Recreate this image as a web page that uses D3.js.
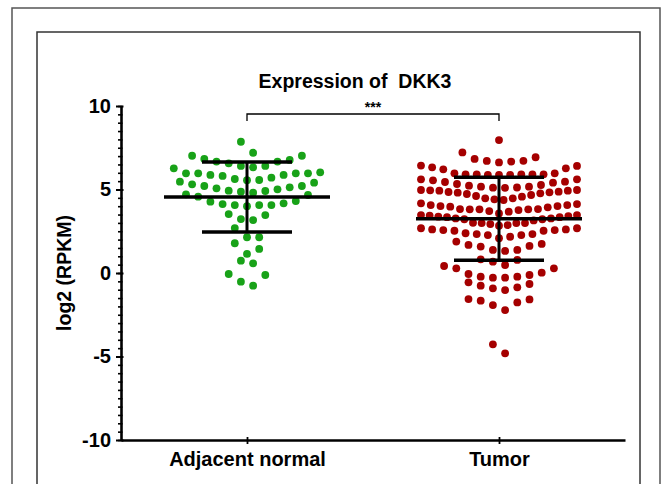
<!DOCTYPE html>
<html><head><meta charset="utf-8">
<script src="https://cdn.jsdelivr.net/npm/d3@7/dist/d3.min.js"></script>
<style>
body{margin:0;background:#fff}
svg{display:block}
text{font-family:"Liberation Sans",Arial,Helvetica,sans-serif;font-weight:bold;fill:#000}
</style>
</head><body>
<svg id="chart" width="667" height="484"></svg>
<script>
const categories = ["Adjacent normal", "Tumor"];
const normalValues = [
  7.86, 7.2,
  7.02, 7.02, 6.77, 6.83, 6.67, 6.67, 6.57, 6.41, 6.33, 6.41,
  6.03, 5.97, 5.97, 5.87, 5.71, 5.57, 5.56, 5.63, 5.81, 5.87, 5.97, 5.97, 6.27,
  5.41, 5.21, 5.13, 5.01, 4.91, 4.81, 4.87, 4.93, 5.07, 5.21, 5.31, 5.47,
  4.71, 4.57, 4.27, 4.13, 4.07, 4.0, 4.07, 4.07, 4.17, 4.31, 4.67,
  3.47, 3.17, 3.23, 3.53,
  2.69,
  2.14, 2.14,
  1.44, 1.78,
  1.14,
  0.74, 0.58,
  -0.12, -0.06,
  -0.76, -0.52
];
const tumorValues = [
  7.96, 7.22,
  6.83, 6.71, 6.62, 6.67, 6.72, 6.93,
  6.41, 6.27, 5.97, 5.91, 5.91, 5.91, 5.87, 5.87, 5.87, 5.91, 5.91, 5.97, 6.21, 6.33, 6.43,
  5.61, 5.47, 5.41, 5.27, 5.17, 5.11, 5.1, 5.12, 5.17, 5.23, 5.33, 5.45, 5.55, 5.61,
  4.97, 4.93, 4.87, 4.83, 4.77, 4.67, 4.57, 4.47, 4.37, 4.41, 4.47, 4.61, 4.73, 4.81, 4.85, 4.93, 4.95, 4.97,
  4.17, 4.07, 4.01, 3.93, 3.83, 3.81, 3.81, 3.57, 3.67, 3.71, 3.77, 3.81, 3.83, 3.97, 4.01, 4.07, 4.13,
  3.47, 3.41, 3.34, 3.27, 3.22, 3.15, 2.99, 2.99, 2.83, 2.87, 2.93, 2.99, 3.01, 3.22, 3.27, 3.34, 3.37, 3.43, 3.47,
  2.68, 2.61, 2.57, 2.53, 2.33, 2.27, 2.17, 2.08, 2.27, 2.33, 2.38, 2.53, 2.57, 2.61, 2.68,
  1.88, 1.68, 1.58, 1.38, 1.32, 1.38, 1.62, 1.74,
  0.78, 0.48, 0.68, 0.82,
  0.28, 0.02, -0.12, -0.28, -0.22, -0.28, -0.22, -0.06, 0.28, 0.42,
  -0.66, -0.86, -1.02, -0.92, -0.76, -0.56,
  -1.56, -1.66, -1.92, -2.22, -1.76, -1.58,
  -4.27, -4.81
];
const groupMeans = [4.55, 3.25];
const groupSDs = [2.1, 2.48];
const yTicks = [-10, -5, 0, 5, 10];
const yMinorStep = 0.5;
const titleText = "Expression of  DKK3";
const yLabelText = "log2 (RPKM)";
const significanceText = "***";
const groupColors = ["#18a218", "#a50000"];

const svg = d3.select("#chart");

// frames
svg.append("rect").attr("x", 12).attr("y", 8).attr("width", 648).attr("height", 520)
  .attr("fill", "none").attr("stroke", "#555").attr("stroke-width", 1.5);
svg.append("rect").attr("x", 37).attr("y", 32).attr("width", 603).attr("height", 500)
  .attr("fill", "none").attr("stroke", "#333").attr("stroke-width", 1.5);

const y = d3.scaleLinear().domain([-10, 10]).range([440, 106]);
const x = d3.scalePoint().domain(categories).range([121, 625]).padding(0.5);

// title
svg.append("text").attr("x", 355).attr("y", 88).attr("text-anchor", "middle")
  .attr("font-size", 19.5).style("white-space", "pre").text(titleText);

// y label
svg.append("text").attr("transform", "translate(71,273) rotate(-90)")
  .attr("text-anchor", "middle").attr("font-size", 19.5).text(yLabelText);

// minor ticks
const minor = d3.range(-10, 10 + 1e-9, yMinorStep);
svg.append("g").attr("transform", "translate(121,0)")
  .call(d3.axisLeft(y).tickValues(minor).tickSize(3).tickFormat(""))
  .call(g => g.select(".domain").remove())
  .call(g => g.selectAll(".tick line").attr("x1", 1.5).attr("stroke-width", 1.6));

// y axis
svg.append("g").attr("transform", "translate(121,0)")
  .call(d3.axisLeft(y).tickValues(yTicks).tickSize(5).tickPadding(5).tickSizeOuter(0)
    .tickFormat(d => String(d)))
  .call(g => g.select(".domain").attr("stroke-width", 2.6))
  .call(g => g.selectAll(".tick line").attr("x1", 2.5).attr("stroke-width", 2))
  .call(g => g.selectAll(".tick text").attr("font-size", 20).attr("font-family", null));

// x axis
svg.append("g").attr("transform", "translate(0,440)")
  .call(d3.axisBottom(x).tickSize(4).tickPadding(8).tickSizeOuter(0))
  .call(g => g.select(".domain").attr("stroke-width", 2.6))
  .call(g => g.selectAll(".tick line").attr("y1", -3).attr("stroke-width", 1.8))
  .call(g => g.selectAll(".tick text").attr("font-size", 20).attr("font-family", null));

// Prism-style row scatter: values grouped into rows of height binW,
// each row spread horizontally (lowest value in the centre, alternating outward).
function rowScatter(values, binW, step, maxWidth, fromTop) {
  const sorted = values.slice().sort((a, b) => fromTop ? b - a : a - b);
  const rows = [];
  let cur = null;
  for (const v of sorted) {
    if (!cur || Math.abs(v - cur.start) >= binW) { cur = { start: v, vals: [] }; rows.push(cur); }
    cur.vals.push(v);
  }
  const out = [];
  for (const r of rows) {
    const vals = r.vals.slice().sort((a, b) => a - b);
    const n = vals.length;
    const s = n > 1 ? Math.min(step, maxWidth / (n - 1)) : 0;
    const offs = d3.range(n).map(k => (k - (n - 1) / 2) * s);
    offs.sort((a, b) => Math.abs(a) - Math.abs(b) || b - a);
    vals.forEach((v, k) => out.push({ v, dx: offs[k] }));
  }
  return out;
}

const groups = [normalValues, tumorValues];
const rowsFromTop = [true, false];
groups.forEach((vals, i) => {
  const cx = x(categories[i]);
  svg.append("g").selectAll("circle").data(rowScatter(vals, 0.72, 12.2, 156, rowsFromTop[i])).join("circle")
    .attr("cx", d => cx + d.dx).attr("cy", d => y(d.v)).attr("r", 3.9)
    .attr("fill", groupColors[i]);
});

// mean & SD
categories.forEach((c, i) => {
  const cx = x(c);
  const g = svg.append("g").attr("stroke", "#000").attr("fill", "none");
  const m = groupMeans[i], s = groupSDs[i];
  g.append("line").attr("x1", cx).attr("x2", cx).attr("y1", y(m + s)).attr("y2", y(m - s)).attr("stroke-width", 3);
  g.append("line").attr("x1", cx - 83).attr("x2", cx + 83).attr("y1", y(m)).attr("y2", y(m)).attr("stroke-width", 3.5);
  g.append("line").attr("x1", cx - 45).attr("x2", cx + 45).attr("y1", y(m + s)).attr("y2", y(m + s)).attr("stroke-width", 3.5);
  g.append("line").attr("x1", cx - 45).attr("x2", cx + 45).attr("y1", y(m - s)).attr("y2", y(m - s)).attr("stroke-width", 3.5);
});

// significance bracket
const bx1 = x(categories[0]), bx2 = x(categories[1]);
svg.append("path").attr("d", `M${bx1},121V114H${bx2}V121`)
  .attr("fill", "none").attr("stroke", "#000").attr("stroke-width", 1.3);
svg.append("text").attr("x", (bx1 + bx2) / 2).attr("y", 112).attr("text-anchor", "middle")
  .attr("font-size", 14).text(significanceText);
</script>
</body></html>
